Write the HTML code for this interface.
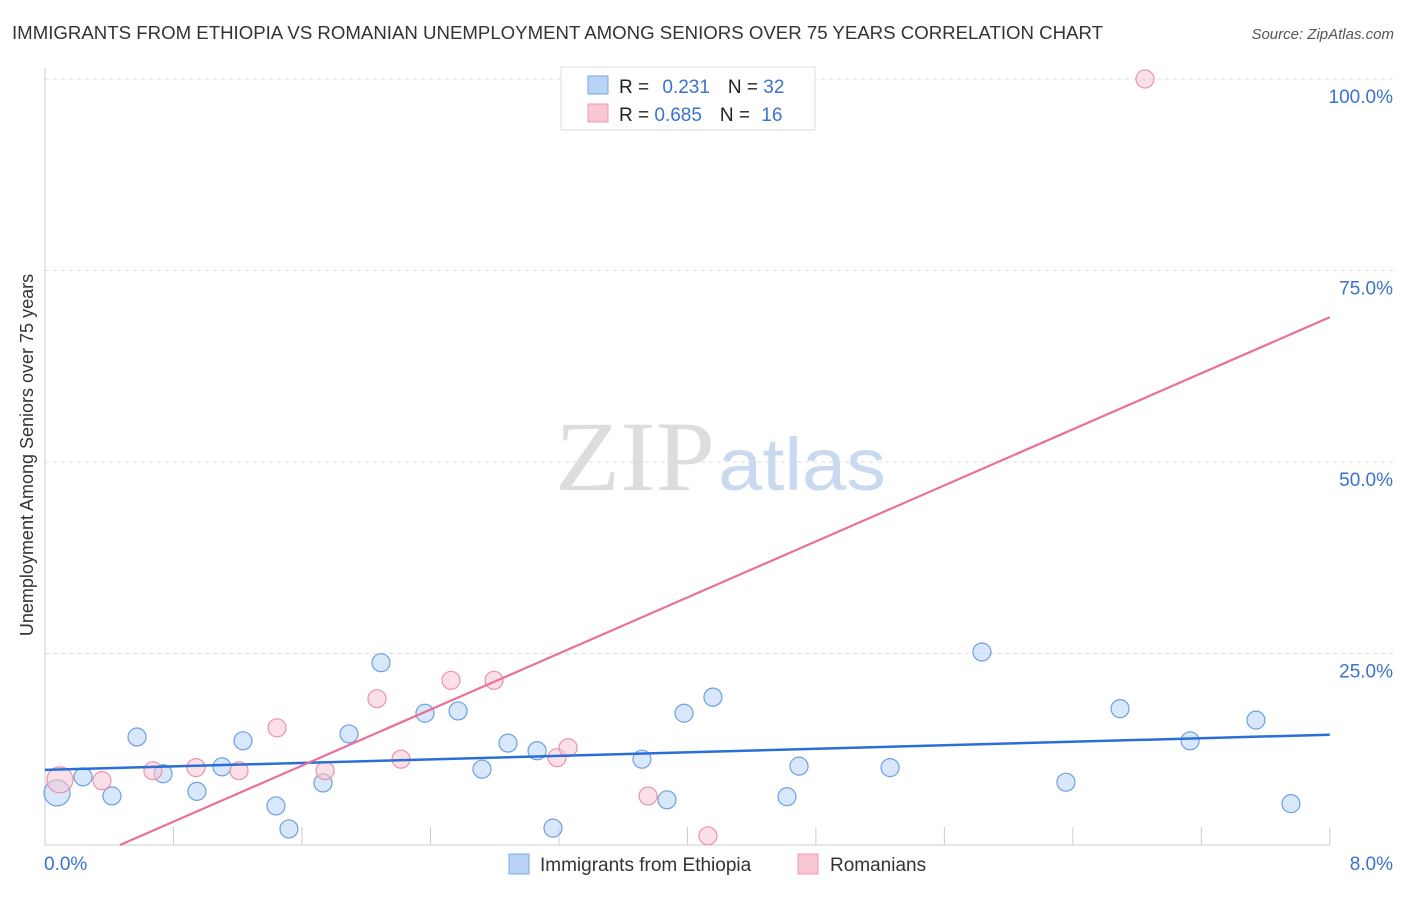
<!DOCTYPE html>
<html><head><meta charset="utf-8"><style>
body{margin:0;background:#fff;font-family:"Liberation Sans",sans-serif}
</style></head><body>
<svg id="c" width="1406" height="892" xmlns="http://www.w3.org/2000/svg">
<text x="12" y="39" font-size="18" fill="#333" textLength="1091" lengthAdjust="spacingAndGlyphs">IMMIGRANTS FROM ETHIOPIA VS ROMANIAN UNEMPLOYMENT AMONG SENIORS OVER 75 YEARS CORRELATION CHART</text>
<text x="1394" y="39" font-size="15" fill="#555" font-style="italic" text-anchor="end">Source: ZipAtlas.com</text>
<text x="555" y="490" font-size="100" fill="#ddd" textLength="160" lengthAdjust="spacingAndGlyphs" font-family="Liberation Serif,serif">ZIP</text>
<text x="718" y="490" font-size="74" fill="#c9d9f0" textLength="168" lengthAdjust="spacingAndGlyphs">atlas</text>
<text transform="translate(33,455) rotate(-90)" font-size="18" fill="#333" text-anchor="middle">Unemployment Among Seniors over 75 years</text>
<g id="grid"></g><g id="marks"></g>
<g>
<rect x="561" y="67" width="254" height="63" fill="#fff" stroke="#ddd"/>
<rect x="588" y="76" width="20" height="18" fill="#b8d3f5" stroke="#7aa8e0"/>
<rect x="588" y="104" width="20" height="18" fill="#f9c6d4" stroke="#ee9ab2"/>
<text x="619" y="93" font-size="19" fill="#222">R = <tspan fill="#3a72d0" dx="8">0.231</tspan><tspan dx="18" fill="#222">N = </tspan><tspan fill="#3a72d0">32</tspan></text>
<text x="619" y="121" font-size="19" fill="#222">R = <tspan fill="#3a72d0">0.685</tspan><tspan dx="18" fill="#222">N = </tspan><tspan fill="#3a72d0" dx="6">16</tspan></text>
</g>
<g>
<rect x="509" y="854" width="20" height="20" fill="#b8d3f5" stroke="#7aa8e0"/>
<text x="540" y="871" font-size="19" fill="#333">Immigrants from Ethiopia</text>
<rect x="798" y="854" width="20" height="20" fill="#f9c6d4" stroke="#ee9ab2"/>
<text x="830" y="871" font-size="19" fill="#333">Romanians</text>
</g>
<text x="44" y="870" font-size="19" fill="#3a72d0">0.0%</text>
<text x="1393" y="870" font-size="19" fill="#3a72d0" text-anchor="end">8.0%</text>
</svg>
<script>
const blueX=[0.075,0.237,0.417,0.573,0.735,0.946,1.102,1.233,1.438,1.519,1.731,1.893,2.092,2.366,2.572,2.721,2.883,3.064,3.163,3.717,3.873,3.979,4.159,4.620,4.695,5.262,5.834,6.357,6.694,7.130,7.540,7.758];
const blueY=[6.8,8.9,6.4,14.1,9.3,7.0,10.2,13.6,5.1,2.1,8.1,14.5,23.8,17.2,17.5,9.9,13.3,12.3,2.2,11.2,5.9,17.2,19.3,6.3,10.3,10.1,25.2,8.2,17.8,13.6,16.3,5.4];
const pinkX=[0.093,0.355,0.672,0.940,1.208,1.445,1.744,2.067,2.217,2.528,2.796,3.188,3.257,3.755,4.128,6.849];
const pinkY=[8.5,8.4,9.7,10.1,9.7,15.3,9.7,19.1,11.2,21.5,21.5,11.4,12.7,6.4,1.2,100];
const yTicks=[25,50,75,100];
const yTickLabels=["25.0%","50.0%","75.0%","100.0%"];
const xTicks=[0.8,1.6,2.4,3.2,4.0,4.8,5.6,6.4,7.2,8.0];
const blueFit=[9.8,14.4];
const pinkFit=[-4.27,68.9];
const X=v=>45+v*160.6, Y=v=>845-v*7.66;
const NS="http://www.w3.org/2000/svg";
function mk(t,a,p){const e=document.createElementNS(NS,t);for(const k in a)e.setAttribute(k,a[k]);p.appendChild(e);return e;}
const g=document.getElementById('grid'), m=document.getElementById('marks');
yTicks.forEach((t,i)=>{
 const l=mk('line',{x1:45,x2:1393,y1:Y(t),y2:Y(t),stroke:'#ddd','stroke-dasharray':'4,4'},g);
 
 
 const tx=mk('text',{x:1393,y:Y(t)+24,'font-size':19,fill:'#3a72d0','text-anchor':'end'},g);
 tx.textContent=yTickLabels[i];
 
 
});
let a=mk('line',{x1:45,x2:45,y1:68,y2:845,stroke:'#ccc'},g);


a=mk('line',{x1:45,x2:1330,y1:845,y2:845,stroke:'#ccc'},g);


xTicks.forEach(t=>{const l=mk('line',{x1:X(t),x2:X(t),y1:827,y2:845,stroke:'#ccc'},g);
 
 });
function pts(xs,ys,fill,stroke,name){xs.forEach((x,i)=>{
 const r=i===0?13:9;
 const c=mk('circle',{cx:X(x),cy:Y(ys[i]),r:r,fill:fill,'fill-opacity':0.55,stroke:stroke,'stroke-width':1.2},m);
 
 });}
pts(blueX,blueY,'#b8d3f5','#6d9fe0','ethiopia-point');
pts(pinkX,pinkY,'#f9c6d4','#ec92ad','romanian-point');
let ln=mk('line',{x1:X(0),y1:Y(blueFit[0]),x2:X(8),y2:Y(blueFit[1]),stroke:'#2a6fd6','stroke-width':2.5},m);


const x0=-pinkFit[0]/((pinkFit[1]-pinkFit[0])/8);
ln=mk('line',{x1:X(x0),y1:Y(0),x2:X(8),y2:Y(pinkFit[1]),stroke:'#e8709a','stroke-width':2.2},m);


</script>
</body></html>
